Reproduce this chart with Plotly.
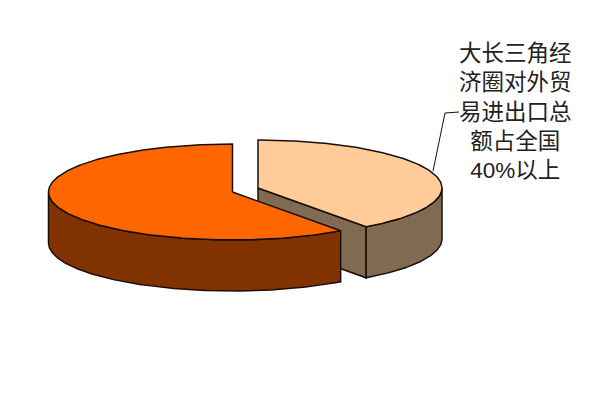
import numpy as np
import plotly.graph_objects as go

# Data
labels = ["大长三角经济圈", "其他地区"]
shares = [40, 60]
top_colors = ["#FFCC99", "#FF6600"]
wall_colors = ["#806A52", "#803300"]
note = "大长三角经<br>济圈对外贸<br>易进出口总<br>额占全国<br>40%以上"

# Pseudo-3D projection settings (page pixels)
centers = [(258, 188), (232.5, 192)]
RX, RY, DEPTH = 184, 48, 51
OUT = "#1a0f08"


def rim(c, a0, a1, drop=0):
    """Points on a slice's rim, angles clockwise from 12 o'clock in degrees."""
    a = np.radians(np.linspace(a0, a1, max(int(abs(a1 - a0)) * 2, 2)))
    return c[0] + RX * np.sin(a), c[1] - RY * np.cos(a) + drop


def poly(fig, xs, ys, fill):
    fig.add_trace(go.Scatter(
        x=list(xs) + [xs[0]], y=list(ys) + [ys[0]], mode="lines", fill="toself",
        fillcolor=fill, line=dict(color=OUT, width=1.5), hoverinfo="skip", showlegend=False,
    ))


fig = go.Figure()
edges = np.concatenate([[0], np.cumsum(shares)]) * 3.6
for i, c in enumerate(centers):
    a0, a1 = edges[i], edges[i + 1]
    # side wall on the cut (only the slice ending in front shows its cut face)
    if i == 0:
        tx, ty = rim(c, a1, a1)
        poly(fig, [c[0], tx[0], tx[0], c[0]],
             [c[1], ty[0], ty[0] + DEPTH, c[1] + DEPTH], wall_colors[i])
    # outer wall: the front half of the rim
    w0, w1 = max(a0, 90), min(a1, 270)
    x1, y1 = rim(c, w0, w1)
    x2, y2 = rim(c, w1, w0, DEPTH)
    poly(fig, np.r_[x1, x2], np.r_[y1, y2], wall_colors[i])
    # top face
    x3, y3 = rim(c, a0, a1)
    poly(fig, np.r_[c[0], x3], np.r_[c[1], y3], top_colors[i])

# Leader line from the middle of the first slice's rim to the note
mx, my = rim(centers[0], edges[1] / 2, edges[1] / 2)
fig.add_trace(go.Scatter(
    x=[mx[0], 445, 459], y=[my[0] - 2, 113, 112], mode="lines",
    line=dict(color="#111111", width=1), hoverinfo="skip", showlegend=False,
))

fig.add_annotation(
    x=515, y=111.5, text=note, showarrow=False, align="center",
    xanchor="center", yanchor="middle",
    font=dict(family="Liberation Sans, Noto Sans CJK SC", size=22.5, color="#222222"),
)

fig.update_xaxes(range=[0, 600], visible=False, fixedrange=True)
fig.update_yaxes(range=[414, 0], visible=False, fixedrange=True)
fig.update_layout(
    width=600, height=414, margin=dict(l=0, r=0, t=0, b=0),
    paper_bgcolor="white", plot_bgcolor="white", showlegend=False,
)
fig.write_html("out.html", config={"displayModeBar": False},
               post_script="document.body.style.margin='0';")
